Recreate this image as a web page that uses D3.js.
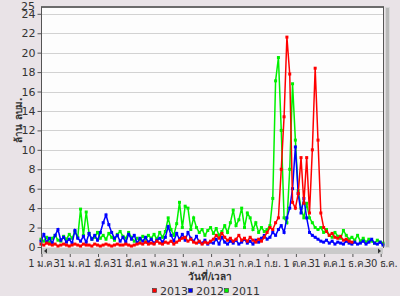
<!DOCTYPE html>
<html>
<head>
<meta charset="utf-8">
<script src="https://cdn.jsdelivr.net/npm/d3@7"></script>
<style>
  body { margin: 0; background: #e9e3e7; }
  svg text { font-family: Tahoma, "DejaVu Sans", "Noto Sans", sans-serif; fill: #333; }
</style>
</head>
<body>
<div id="chart"></div>
<script>
// one value every 3 days, starting 1 Jan
const step = 3;

const tickDays = [0, 30, 60, 90, 120, 150, 180, 210, 240, 270, 300, 330, 360];
const tickLabels = ["1 ม.ค.", "31 ม.ค.", "1 มี.ค.", "31 มี.ค.", "1 พ.ค.", "31 พ.ค.",
                    "1 ก.ค.", "31 ก.ค.", "1 ก.ย.", "1 ต.ค.", "31 ต.ค.", "1 ธ.ค.", "30 ธ.ค."];
const yTicks = [0, 2, 4, 6, 8, 10, 12, 14, 16, 18, 20, 22, 24];

const seriesNames = ["2011", "2012", "2013"];
const seriesColors = ["#00f000", "#0000ff", "#ff0000"];

const values2011 = [
  0.8, 0.6, 1.0, 0.5, 0.9, 1.2, 0.7, 0.6, 1.1, 0.8,
  1.3, 0.9, 1.6, 1.0, 3.9, 1.2, 3.6, 1.4, 0.8, 1.0,
  1.5, 0.9, 1.2, 0.8, 1.4, 1.0, 0.7, 1.3, 1.6, 1.1,
  0.9, 1.5, 1.0, 0.6, 0.9, 0.7, 1.1, 0.8, 1.2, 0.9,
  1.3, 0.8, 1.5, 1.0, 1.6, 3.0, 1.8, 1.2, 2.4, 4.6,
  2.0, 4.2, 4.0, 1.8, 3.0, 2.0, 1.5, 1.8, 1.2, 1.7,
  2.0, 1.4, 1.9, 1.2, 1.6, 2.2, 1.5, 2.5, 3.8, 2.2,
  2.8, 4.0, 2.0, 3.5, 3.0, 1.8, 2.5, 1.5, 2.0, 1.6,
  1.8, 2.2, 5.0, 17.1, 19.5, 12.0, 3.0, 2.5, 8.0, 16.8,
  11.0, 5.8, 4.0, 3.0, 4.5, 3.0, 2.5, 2.0, 1.8, 2.0,
  1.5, 1.8, 1.2, 1.0, 1.5, 1.1, 0.9, 1.7, 1.2, 0.8,
  1.0, 0.7, 1.2, 0.6, 0.9, 0.5, 0.8, 0.6, 0.4, 0.7, 0.5, 0.4
];

const values2012 = [
  0.6, 1.3, 0.5, 0.9, 0.4, 1.2, 1.8, 0.7, 1.0, 0.5,
  0.8, 0.4, 1.7, 0.9, 0.6, 1.1, 0.5, 1.4, 0.8, 1.2,
  0.7, 1.5, 2.5, 3.3, 2.3, 1.5, 0.9, 1.2, 0.6, 1.0,
  0.5, 1.3, 0.8, 1.2, 0.4, 0.9, 0.6, 1.0, 0.5, 0.8,
  0.4, 0.7, 0.9, 0.5, 1.0, 2.1, 1.2, 0.6, 1.4, 0.8,
  1.3, 0.7, 1.5, 0.9, 0.6, 1.1, 0.5, 0.4, 0.7, 0.3,
  0.5, 0.4, 0.8, 0.3, 1.0, 0.5, 0.3, 0.6, 0.4, 0.7,
  0.3, 0.5, 0.8, 0.4, 0.6, 0.3, 0.7, 0.5, 0.9, 1.2,
  0.8, 1.0, 1.5, 1.2, 1.8, 2.2, 1.5, 3.0, 4.0, 6.0,
  10.3, 5.5, 3.5, 5.0, 3.0, 1.5, 1.2, 1.0, 0.8, 0.6,
  0.5, 0.7, 0.4, 0.6, 0.3, 0.5, 0.4, 0.3, 0.6, 0.4,
  0.3, 0.5, 0.3, 0.4, 0.6, 0.3, 0.5, 0.8, 0.4, 0.3, 0.5, 0.2
];

const values2013 = [
  0.3, 0.2, 0.4, 0.3, 0.2, 0.3, 0.1, 0.2, 0.3, 0.2,
  0.1, 0.2, 0.3, 0.2, 0.1, 0.3, 0.2, 0.2, 0.1, 0.3,
  0.2, 0.1, 0.2, 0.3, 0.2, 0.1, 0.2, 0.3, 0.2, 0.2,
  0.3, 0.2, 0.1, 0.2, 0.3, 0.4, 0.3, 0.5, 0.3, 0.4,
  0.3, 0.6, 0.4, 0.3, 0.5, 0.4, 0.6, 0.3, 0.5, 0.7,
  0.9, 1.0, 0.6, 0.8, 0.5, 0.4, 0.6, 0.3, 0.5, 0.4,
  0.6, 0.8, 1.2, 0.9, 1.4, 1.0, 0.7, 0.9, 0.6, 0.8,
  1.2, 0.7, 0.9, 0.6, 1.0, 0.7, 0.5, 0.8, 0.6, 1.0,
  1.5, 2.0, 1.8, 2.5, 3.0, 8.0, 13.4, 21.6, 17.8, 4.6,
  4.0, 5.5, 9.2, 4.5, 9.2, 3.5, 10.0, 18.4, 11.0, 3.5,
  2.0, 1.6, 1.2, 1.4, 1.0, 0.9, 1.1, 0.7, 0.8, 0.6, 0.5
];

(function () {
  "use strict";

  const width = 400, height = 296;
  // plot box
  const left = 41, right = 383, top = 7, bottom = 247;

  const svg = d3.select("#chart").append("svg")
    .attr("width", width)
    .attr("height", height);

  const x = d3.scaleLinear().domain([0, 363]).range([left, right]);
  const y = d3.scaleLinear().domain([0, 24.7]).range([bottom, top]);

  svg.append("rect")
    .attr("x", left).attr("y", top)
    .attr("width", right - left).attr("height", bottom - top)
    .attr("fill", "#fdfdfd");

  // grid lines
  svg.append("g")
    .selectAll("line")
    .data(yTicks.slice(1))
    .join("line")
      .attr("x1", left + 1).attr("x2", right)
      .attr("y1", d => Math.round(y(d)) + 0.5)
      .attr("y2", d => Math.round(y(d)) + 0.5)
      .attr("stroke", "#d2d2d2");

  // series, oldest first so 2013 ends up on top
  const allValues = [values2011, values2012, values2013];
  const line = d3.line()
    .x((d, i) => x(i * step))
    .y(d => y(d));

  const plot = svg.append("g");
  allValues.forEach(function (vals, k) {
    plot.append("path")
      .datum(vals)
      .attr("d", line)
      .attr("fill", "none")
      .attr("stroke", seriesColors[k])
      .attr("stroke-width", 1.5);
    plot.append("g")
      .selectAll("rect")
      .data(vals)
      .join("rect")
        .attr("x", (d, i) => x(i * step) - 1.5)
        .attr("y", d => y(d) - 1.5)
        .attr("width", 3).attr("height", 3)
        .attr("fill", seriesColors[k]);
  });

  // frame: dark top and right edges
  svg.append("line")
    .attr("x1", left).attr("x2", right + 1)
    .attr("y1", top).attr("y2", top)
    .attr("stroke", "#6b6b6b").attr("stroke-width", 2);
  svg.append("line")
    .attr("x1", right + 0.5).attr("x2", right + 0.5)
    .attr("y1", top).attr("y2", bottom + 1)
    .attr("stroke", "#555").attr("stroke-width", 1);

  // right scroll bar
  svg.append("rect")
    .attr("x", 385.5).attr("y", 7.5)
    .attr("width", 4).attr("height", 240)
    .attr("fill", "#b9b9b9").attr("stroke", "#d8d8d8");

  // bottom scroll bar
  svg.append("rect")
    .attr("x", left + 1).attr("y", bottom + 1)
    .attr("width", right - left - 1).attr("height", 6)
    .attr("fill", "#cacaca");
  svg.append("path")
    .attr("d", "M44,251 L47,248.5 L47,253.5 Z")
    .attr("fill", "#333");
  svg.append("path")
    .attr("d", "M381,251 L378,248.5 L378,253.5 Z")
    .attr("fill", "#333");

  // y axis
  const yAxis = svg.append("g")
    .attr("transform", "translate(" + (left + 0.5) + ",0)")
    .call(d3.axisLeft(y).tickValues(yTicks).tickSize(4).tickPadding(2));
  yAxis.select(".domain").attr("stroke", "#555").attr("d", "M0," + top + "V" + (bottom + 7));
  yAxis.selectAll(".tick line").attr("stroke", "#555");
  yAxis.selectAll("text").attr("font-size", 11).attr("fill", "#333");
  svg.append("text")
    .attr("x", 35).attr("y", 10)
    .attr("text-anchor", "end")
    .attr("font-size", 11)
    .text("25");

  // x axis below the scroll bar
  const xAxis = svg.append("g")
    .attr("transform", "translate(0.5," + 254 + ")")
    .call(d3.axisBottom(x).tickValues(tickDays)
      .tickFormat((d, i) => tickLabels[i])
      .tickSize(3).tickPadding(3));
  xAxis.select(".domain").remove();
  xAxis.selectAll(".tick line").attr("stroke", "#555");
  xAxis.selectAll("text")
    .attr("font-size", 10)
    .attr("letter-spacing", -0.4)
    .attr("fill", "#333");

  // axis titles
  svg.append("text")
    .attr("transform", "translate(22,120) rotate(-90)")
    .attr("text-anchor", "middle")
    .attr("font-size", 10).attr("font-weight", "bold")
    .text("ล้าน ลบม.");
  svg.append("text")
    .attr("x", 210).attr("y", 280)
    .attr("text-anchor", "middle")
    .attr("font-size", 10).attr("font-weight", "bold")
    .text("วันที่/เวลา");

  // legend
  const legendOrder = [2, 1, 0];
  const legend = svg.append("g")
    .selectAll("g")
    .data(legendOrder)
    .join("g")
      .attr("transform", (d, i) => "translate(" + (152 + i * 36) + ",288)");
  legend.append("rect")
    .attr("x", 0.5).attr("y", 0.5)
    .attr("width", 4).attr("height", 4)
    .attr("fill", d => seriesColors[d])
    .attr("stroke", "#333").attr("stroke-width", 0.6);
  legend.append("text")
    .attr("x", 8).attr("y", 6.5)
    .attr("font-size", 11)
    .text(d => seriesNames[d]);
})();
</script>
</body>
</html>
